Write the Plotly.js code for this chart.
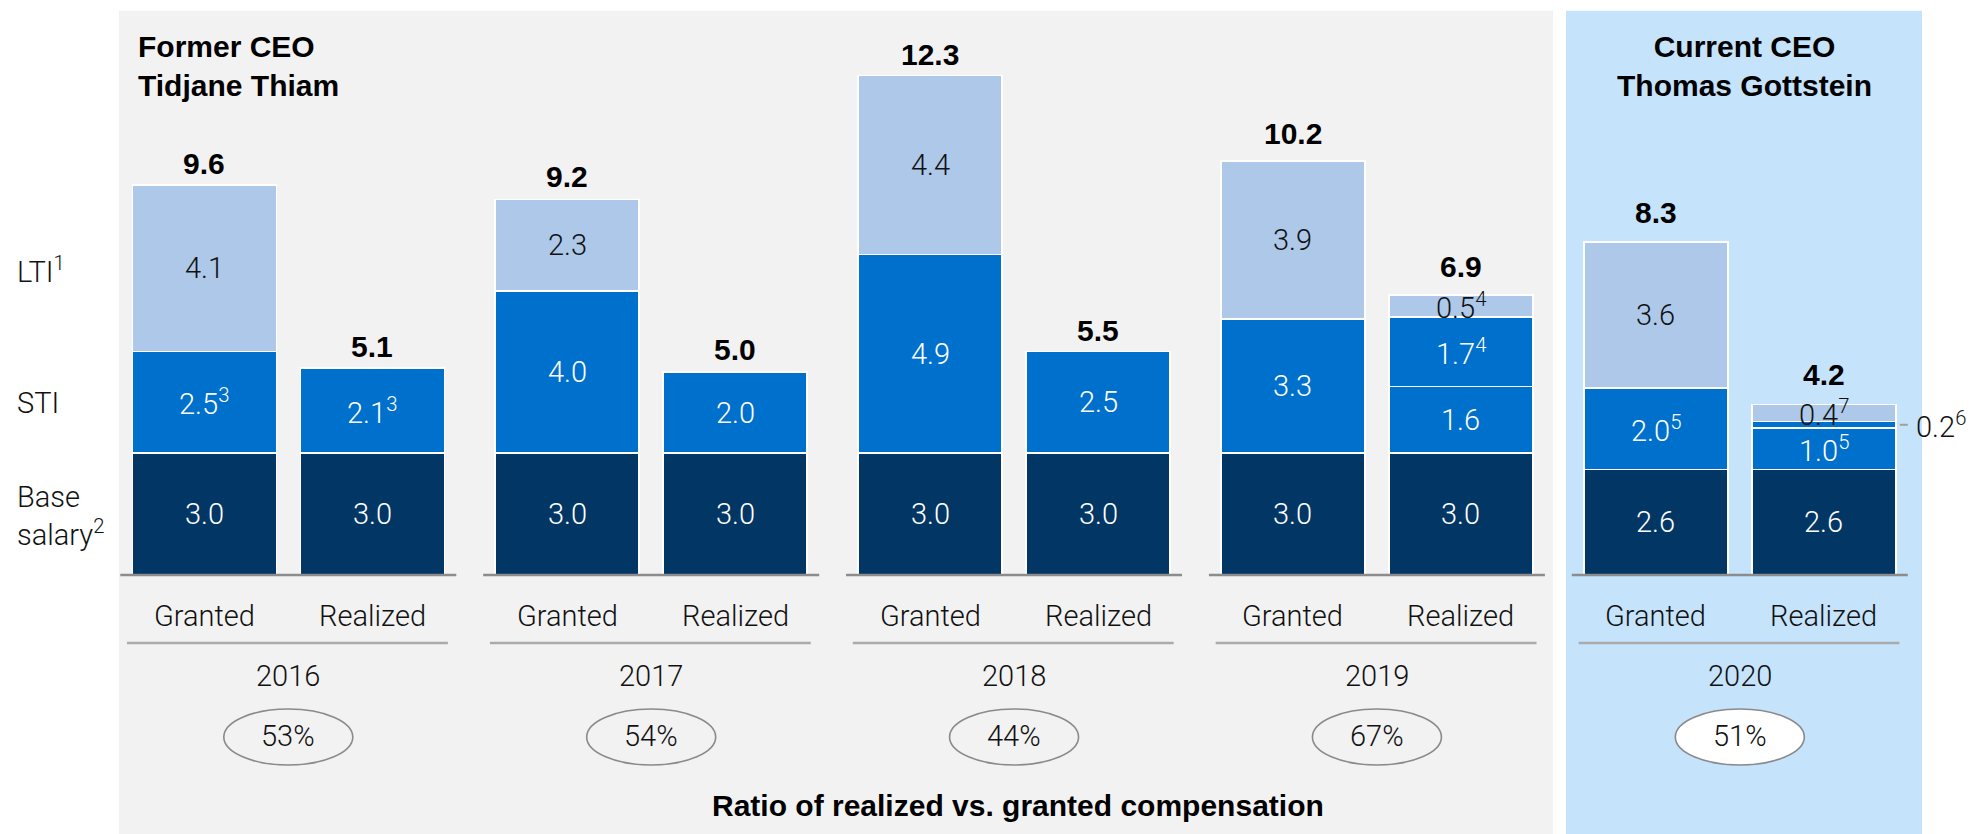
<!DOCTYPE html>
<html><head><meta charset="utf-8">
<script src="https://cdn.plot.ly/plotly-3.0.1.min.js"></script>
<style>html,body{margin:0;padding:0;background:#fff;} #chart{width:1982px;height:834px;}</style>
</head><body><div id="chart"></div>
<script>
// ---------- data ----------
const years = ['2016','2017','2018','2019','2020'];
const kinds = ['Granted','Realized'];
const ratios = ['53%','54%','44%','67%','51%'];
const baseSalary = [3.0,3.0, 3.0,3.0, 3.0,3.0, 3.0,3.0, 2.6,2.6];
const sti        = [2.5,2.1, 4.0,2.0, 4.9,2.5, 3.3,1.64, 2.0,1.02];
const stiExtra   = [0,0, 0,0, 0,0, 0,1.72, 0,0.16];
const lti        = [4.1,0, 2.25,0, 4.4,0, 3.9,0.54, 3.6,0.42];
const totals     = ['9.6','5.1','9.2','5.0','12.3','5.5','10.2','6.9','8.3','4.2'];
const stiNotes      = ['3','3','','','','','','','5','5'];
const stiExtraNotes = ['','','','','','','','4','','6'];
const ltiNotes      = ['','','','','','','','4','','7'];
const rowLabels = ['LTI<sup>1</sup>','STI','Base<br>salary<sup>2</sup>'];
const ceoTitles = ['Former CEO<br>Tidjane Thiam','Current CEO<br>Thomas Gottstein'];
const footerTitle = 'Ratio of realized vs. granted compensation';

// ---------- layout constants ----------
const W = 1982, H = 834;
const Y0 = 575, PXU = 40.6;          // pixel of y=0, pixels per unit
const XU = 168, X0 = 204.3;          // pixels per x unit, pixel of x=0
const GSTEP = 2.16, BW = 144/168;
const totalShiftPx = [21.7, 21.7, 22.7, 22.7, 20.7, 21, 27, 28, 30, 30];
const yPx = p => (Y0 - p) / PXU;
const xPx = p => (p - X0) / XU;
const xs = baseSalary.map((_, i) => Math.floor(i/2) * GSTEP + (i % 2));
const nz = a => a.map(v => v ? v : null);

const colBase = '#023664', colSti = '#0070CD', colLti = '#ADC8E9';
const regFont = {family: 'Roboto, Liberation Sans, sans-serif', size: 29, color: '#111', weight: 300};
const boldFont = {family: 'Liberation Sans, Arial, sans-serif', size: 30, color: '#000', weight: 700};
const lineW = {color: '#ffffff', width: 1.5};

function barTrace(vals, color, name) {
  return {type: 'bar', x: xs, y: nz(vals), width: BW, name: name,
    marker: {color: color, line: lineW}, hoverinfo: 'skip', showlegend: false};
}
const traces = [
  barTrace(baseSalary, colBase, 'Base salary'),
  barTrace(sti, colSti, 'STI'),
  barTrace(stiExtra, colSti, 'STI (other)'),
  barTrace(lti, colLti, 'LTI')
];

const ann = [];
const shapes = [];
// panels
shapes.push({type: 'rect', xref: 'paper', yref: 'paper', x0: 119/W, x1: 1553/W, y0: 0, y1: 1 - 10.7/H,
  fillcolor: '#F2F2F2', line: {width: 0}, layer: 'below'});
shapes.push({type: 'rect', xref: 'paper', yref: 'paper', x0: 1566/W, x1: 1922/W, y0: 0, y1: 1 - 10.7/H,
  fillcolor: '#C5E3FB', line: {width: 0}, layer: 'below'});

// segment labels
function lab(v, note) { return v.toFixed(1) + (note ? '<sup>' + note + '</sup>' : ''); }
xs.forEach((x, i) => {
  const layers = [
    [baseSalary[i], '', '#ffffff'],
    [sti[i], stiNotes[i], '#ffffff'],
    [stiExtra[i], stiExtraNotes[i], '#ffffff'],
    [lti[i], ltiNotes[i], '#111111']
  ];
  let bottom = 0;
  layers.forEach(([v, note, c]) => {
    if (!v) return;
    const mid = bottom + v/2;
    if (v * PXU < 10) {
      // callout to the right
      shapes.push({type: 'line', x0: x + BW/2 + 4/XU, x1: x + BW/2 + 12/XU, y0: mid, y1: mid,
        line: {color: '#A0A0A0', width: 2}, layer: 'above'});
      ann.push({x: x + BW/2 + 18/XU, y: mid, xanchor: 'left', yanchor: 'middle', showarrow: false,
        text: lab(v, note), font: Object.assign({}, regFont, {color: '#111'})});
    } else {
      ann.push({x: x, y: mid, xanchor: 'center', yanchor: 'middle', showarrow: false,
        text: lab(v, note), font: Object.assign({}, regFont, {color: c})});
    }
    bottom += v;
  });
  // total
  ann.push({x: x, y: bottom, yshift: totalShiftPx[i], xanchor: 'center', yanchor: 'middle', showarrow: false,
    text: totals[i], font: boldFont});
  // kind label
  ann.push({x: x, y: yPx(615.5), xanchor: 'center', yanchor: 'middle', showarrow: false,
    text: kinds[i % 2], font: regFont});
});

// per group elements
years.forEach((yr, g) => {
  const gx = g * GSTEP;
  shapes.push({type: 'line', x0: gx - 0.5, x1: gx + 1.5, y0: 0, y1: 0,
    line: {color: '#8C8C8C', width: 2.5}, layer: 'above'});
  shapes.push({type: 'line', x0: gx - 0.46, x1: gx + 1.45, y0: yPx(643), y1: yPx(643),
    line: {color: '#ABABAB', width: 2.5}, layer: 'below'});
  shapes.push({type: 'circle', x0: gx + 0.5 - 64.5/XU, x1: gx + 0.5 + 64.5/XU,
    y0: yPx(737 + 28), y1: yPx(737 - 28),
    fillcolor: g === 4 ? '#ffffff' : 'rgba(0,0,0,0)', line: {color: '#8A8A8A', width: 1.6}, layer: 'below'});
  ann.push({x: gx + 0.5, y: yPx(676), xanchor: 'center', yanchor: 'middle', showarrow: false,
    text: yr, font: regFont});
  ann.push({x: gx + 0.5, y: yPx(736), xanchor: 'center', yanchor: 'middle', showarrow: false,
    text: ratios[g], font: regFont});
});

// row labels
const rowY = [270, 403, 516];
rowLabels.forEach((t, k) => {
  ann.push({xref: 'paper', x: 15/W, y: yPx(rowY[k]), xanchor: 'left', yanchor: 'middle', align: 'left',
    showarrow: false, text: t, font: regFont});
});
// CEO titles
ann.push({xref: 'paper', yref: 'paper', x: 136/W, y: 1 - 66/H, xanchor: 'left', yanchor: 'middle', align: 'left',
  showarrow: false, text: ceoTitles[0], font: boldFont});
ann.push({xref: 'paper', yref: 'paper', x: 1744/W, y: 1 - 66/H, xanchor: 'center', yanchor: 'middle', align: 'center',
  showarrow: false, text: ceoTitles[1], font: boldFont});
ann.push({xref: 'paper', yref: 'paper', x: 1018/W, y: 1 - 805/H, xanchor: 'center', yanchor: 'middle',
  showarrow: false, text: footerTitle, font: boldFont});

const layout = {
  width: W, height: H,
  margin: {l: 0, r: 0, t: 0, b: 0},
  paper_bgcolor: '#ffffff', plot_bgcolor: 'rgba(0,0,0,0)',
  barmode: 'stack', bargap: 0,
  showlegend: false,
  xaxis: {visible: false, range: [xPx(0), xPx(W)], fixedrange: true},
  yaxis: {visible: false, range: [yPx(H), yPx(0)], fixedrange: true},
  shapes: shapes, annotations: ann
};
Plotly.newPlot('chart', traces, layout, {displayModeBar: false, staticPlot: true});
</script>
</body></html>
